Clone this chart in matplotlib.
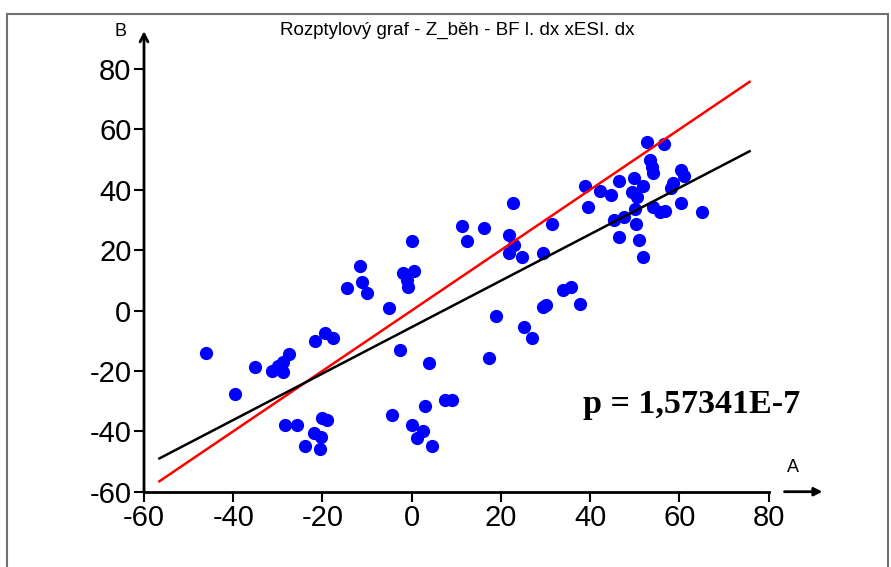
import numpy as np
import matplotlib
matplotlib.use('Agg')
import matplotlib.pyplot as plt
from matplotlib.patches import Rectangle

plt.rcParams['font.family'] = ['Liberation Sans', 'DejaVu Sans']
plt.rcParams['axes.unicode_minus'] = False

title = 'Rozptylový graf - Z_běh - BF l. dx xESI. dx'
p_text = 'p = 1,57341E-7'
x_ticks = [-60, -40, -20, 0, 20, 40, 60, 80]
y_ticks = [-60, -40, -20, 0, 20, 40, 60, 80]

# A (x) and B (y) values
A = [-46.0, -39.5, -35.2, -31.2, -29.9, -28.8, -28.8, -27.6, -21.6, -19.5,
     -17.6, -14.5, -11.6, -11.2, -10.1, -5.0, -1.9, 0.6, -1.1, -0.8,
     0.0, -2.6, 3.9, -28.3, -25.8, -23.9, -20.6, -21.9, -20.4, -20.0,
     -18.9, -4.3, 0.1, 2.6, 1.2, 4.5, 3.0, 7.5, 9.1, 11.4,
     12.4, 16.3, 17.4, 18.9, 22.7, 21.9, 23.0, 21.9, 24.7, 25.2,
     27.0, 29.4, 31.4, 29.5, 30.2, 34.0, 35.8, 37.7, 38.8, 39.6,
     42.2, 44.6, 45.3, 47.6, 46.5, 46.5, 49.8, 49.4, 50.5, 51.8,
     50.0, 50.2, 51.0, 51.8, 52.8, 56.6, 53.5, 53.8, 54.2, 54.2,
     55.7, 56.8, 60.4, 61.1, 58.5, 58.2, 60.4, 65.0]
B = [-13.9, -27.8, -18.6, -19.9, -18.4, -20.2, -17.0, -14.3, -10.2, -7.3,
     -9.0, 7.5, 14.6, 9.3, 5.8, 0.9, 12.3, 13.1, 10.1, 7.9,
     23.1, -13.1, -17.5, -38.0, -38.0, -44.7, -45.7, -40.7, -41.8, -35.5,
     -36.4, -34.5, -38.0, -40.0, -42.2, -44.8, -31.5, -29.6, -29.6, 28.0,
     23.1, 27.2, -15.8, -1.7, 35.5, 25.1, 21.7, 18.9, 17.7, -5.4,
     -9.0, 18.9, 28.8, 1.3, 2.0, 6.8, 7.7, 2.1, 41.3, 34.4,
     39.7, 38.3, 30.1, 30.9, 42.8, 24.3, 44.0, 39.2, 37.5, 41.2,
     33.7, 28.8, 23.2, 17.7, 55.9, 55.3, 49.9, 47.6, 45.4, 34.4,
     32.7, 33.1, 46.5, 44.5, 42.4, 40.5, 35.7, 32.7]

A = np.array(A)
B = np.array(B)

# line range: data range widened by ~10 % on each side
span = A.max() - A.min()
xl = np.array([A.min() - 0.095 * span, A.max() + 0.097 * span])
k, q = np.polyfit(A, B, 1)

fig = plt.figure(figsize=(8.91, 5.67), dpi=100)
W, H = 891, 567
ax = fig.add_axes([144 / W, 1 - 491.7 / H, (768.5 - 144) / W, (491.7 - 69) / H])

ax.plot(A, B, 'o', color='#0000ff', ms=8.5, mec='#0000ff', zorder=3, clip_on=False)
ax.plot(xl, xl, color='#ff0000', lw=1.8, zorder=4, clip_on=False)
ax.plot(xl, k * xl + q, color='black', lw=1.8, zorder=4, clip_on=False)

ax.set_xlim(-60, 80)
ax.set_ylim(-60, 80)
ax.set_xticks(x_ticks)
ax.set_yticks(y_ticks)
ax.tick_params(labelsize=21, length=7, width=1.5, pad=2)
for s in ['top', 'right', 'left']:
    ax.spines[s].set_visible(False)
ax.spines['bottom'].set_linewidth(2)

# axis arrows
ax.annotate('', xy=(0, 1 + 38 / 422.7), xytext=(0, 0), xycoords='axes fraction',
            arrowprops=dict(arrowstyle='->', lw=2, color='black', shrinkA=0, shrinkB=0,
                            mutation_scale=14))
ax.annotate('', xy=(1 + 54 / 624.5, 0), xytext=(1 + 16 / 624.5, 0), xycoords='axes fraction',
            arrowprops=dict(arrowstyle='-|>', lw=2, color='black', shrinkA=0, shrinkB=0,
                            mutation_scale=12))

fig.text(457 / W, 1 - 30 / H, title, ha='center', va='center', fontsize=13.5)
fig.text(121 / W, 1 - 32 / H, 'B', ha='center', va='center', fontsize=13)
fig.text(793 / W, 1 - 468 / H, 'A', ha='center', va='center', fontsize=13)
fig.text(583 / W, 1 - 405 / H, p_text, ha='left', va='center', fontsize=24.5,
         fontweight='bold', family=['Liberation Serif', 'DejaVu Serif'])

fig.patches.append(Rectangle((7 / W, -0.1), (888 - 7) / W, 1.1 - 14 / H,
                             transform=fig.transFigure, fill=False,
                             edgecolor='#707070', lw=1.5))

fig.savefig('out.png', dpi=100)
